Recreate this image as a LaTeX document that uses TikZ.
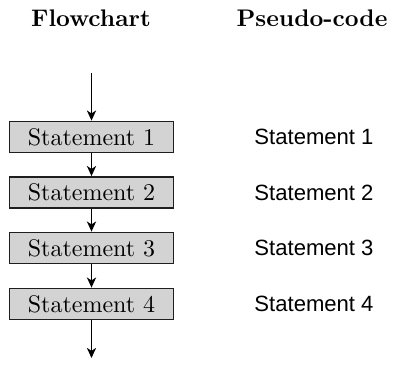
\documentclass[tikz,border=0pt]{standalone}
\usepackage{fontspec}
\newfontfamily\pseudofont[Scale=0.92]{Liberation Sans}
\usetikzlibrary{arrows.meta}
\definecolor{boxgray}{RGB}{211,211,211}
\definecolor{edgegray}{RGB}{30,30,30}
\begin{document}
\begin{tikzpicture}[x=0.41667pt,y=-0.41667pt,
  stmt/.style={draw=edgegray,fill=boxgray,line width=0.75pt,
    minimum width=164*0.41667pt,minimum height=31*0.41667pt,
    inner sep=0pt,font=\rmfamily},
  pcode/.style={font=\pseudofont,anchor=west,inner sep=0pt},
  head/.style={font=\bfseries},
  flow/.style={line width=0.65pt,-{Stealth[length=4.2pt,width=3.8pt,inset=1.2pt]}}]
  \useasboundingbox (0,0) rectangle (393,367);
  % column headings
  \node[head] (hflow) at (91,18) {Flowchart};
  \node[head] (hpseudo) at (312,18) {Pseudo-code};
  % flowchart
  \coordinate (start) at (91.5,73);
  \coordinate (stop) at (91.5,358);
  \node[stmt] (s1) at (91.5,137) {Statement 1};
  \node[stmt] (s2) at (91.5,192.5) {Statement 2};
  \node[stmt] (s3) at (91.5,248) {Statement 3};
  \node[stmt] (s4) at (91.5,304) {Statement 4};
  \draw[flow] (start) -- (s1);
  \draw[flow] (s1) -- (s2);
  \draw[flow] (s2) -- (s3);
  \draw[flow] (s3) -- (s4);
  \draw[flow] (s4) -- (stop);
  % pseudo-code
  \node[pcode] (p1) at (254,137) {Statement 1};
  \node[pcode] (p2) at (254,192.5) {Statement 2};
  \node[pcode] (p3) at (254,248) {Statement 3};
  \node[pcode] (p4) at (254,304) {Statement 4};
\end{tikzpicture}
\end{document}
